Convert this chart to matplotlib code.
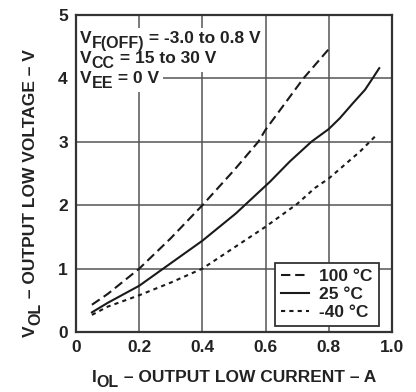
import numpy as np
import matplotlib
matplotlib.use('Agg')
import matplotlib.pyplot as plt
from matplotlib.transforms import IdentityTransform, Bbox
from matplotlib.patches import Rectangle

plt.rcParams['font.family'] = ['Liberation Sans', 'DejaVu Sans']
plt.rcParams['font.weight'] = 'bold'

# curves
x_100 = [0.05, 0.1, 0.2, 0.3, 0.4, 0.5, 0.577, 0.6, 0.72, 0.8]
v_100 = [0.43, 0.6, 1.0, 1.48, 2.0, 2.55, 3.0, 3.19, 4.0, 4.46]

x_25 = [0.05, 0.1, 0.2, 0.276, 0.4, 0.506, 0.614, 0.677, 0.745, 0.8, 0.835, 0.877, 0.915, 0.939, 0.96]
v_25 = [0.31, 0.46, 0.73, 1.0, 1.44, 1.87, 2.37, 2.69, 3.0, 3.2, 3.37, 3.61, 3.82, 4.0, 4.16]

x_m40 = [0.05, 0.1, 0.2, 0.3, 0.4, 0.506, 0.6, 0.7, 0.756, 0.8, 0.9, 0.946]
v_m40 = [0.27, 0.4, 0.58, 0.78, 1.0, 1.35, 1.66, 2.02, 2.27, 2.42, 2.85, 3.08]

labels = ['100 °C', '25 °C', '-40 °C']

xticks = [0, 0.2, 0.4, 0.6, 0.8, 1.0]
xticklabels = ['0', '0.2', '0.4', '0.6', '0.8', '1.0']
yticks = [0, 1, 2, 3, 4, 5]

FS = 12.5
SUB = 11.5
TXT = '#222222'

fig = plt.figure(figsize=(4.16, 3.92), dpi=100)
ax = fig.add_axes([0.183, 0.153, 0.759, 0.809])
renderer = fig.canvas.get_renderer()

col = '#1a1a1a'
ax.plot(x_100, v_100, color=col, lw=1.5, ls=(0, (4.5, 2.3)), label=labels[0], zorder=3)
ax.plot(x_25, v_25, color=col, lw=1.5, ls='-', label=labels[1], zorder=3)
ax.plot(x_m40, v_m40, color=col, lw=1.5, ls=(0, (2, 2)), label=labels[2], zorder=3)

ax.set_xlim(0, 1.0)
ax.set_ylim(0, 5)
ax.set_xticks(xticks)
ax.set_xticklabels(xticklabels)
ax.set_yticks(yticks)
ax.tick_params(length=0, labelsize=FS, pad=6, colors=TXT)
ax.grid(True, color='#555555', lw=1.1)
ax.set_axisbelow(True)
for s in ax.spines.values():
    s.set_linewidth(1.6)
    s.set_color('#333333')


def rich_text(x0, y0, pieces, rot=0, center=False):
    # pieces: (string, size, drop in px); x0,y0 in display pixels at the baseline
    objs = []
    total = 0
    for s, size, drop in pieces:
        t = fig.text(0, 0, s, transform=IdentityTransform(), fontsize=size, color=TXT,
                     fontweight='bold', ha='left', va='baseline',
                     rotation=rot, rotation_mode='anchor', zorder=5)
        ext = t.get_window_extent(renderer)
        w = ext.height if rot == 90 else ext.width
        objs.append((t, total, drop))
        total += w
    start = -total / 2 if center else 0
    for t, off, drop in objs:
        if rot == 90:
            t.set_position((x0 + drop, y0 + start + off))
        else:
            t.set_position((x0 + start + off, y0 - drop))
    return Bbox.union([t.get_window_extent(renderer) for t, _, _ in objs])


H = 392
# condition lines, top left, each with its own white patch over the grid
cond = [
    [('V', FS, 0), ('F(OFF)', SUB, 5), (' = -3.0 to 0.8 V', FS, 0)],
    [('V', FS, 0), ('CC', SUB, 5), (' = 15 to 30 V', FS, 0)],
    [('V', FS, 0), ('EE', SUB, 5), (' = 0 V', FS, 0)],
]
for i, pieces in enumerate(cond):
    bb = rich_text(80, H - 43 - 20 * i, pieces)
    ax.add_patch(Rectangle((bb.x0 - 4, bb.y0 - 1), bb.width + 8, bb.height + 4,
                           transform=IdentityTransform(), facecolor='white',
                           edgecolor='none', zorder=2, clip_on=True))

# axis labels
rich_text(234, H - 382, [('I', FS, 0), ('OL', SUB, 5), (' – OUTPUT LOW CURRENT – A', FS, 0)], center=True)
rich_text(35, H - 193, [('V', FS, 0), ('OL', SUB, 5), (' – OUTPUT LOW VOLTAGE – V', FS, 0)], rot=90, center=True)

leg = ax.legend(loc='lower right', prop=dict(size=FS, weight='bold'), frameon=True, fancybox=False,
                handlelength=1.6, handletextpad=0.6, borderpad=0.35, labelspacing=0.15,
                bbox_to_anchor=(0.959, 0.019), borderaxespad=0)
leg.get_frame().set_edgecolor('#333333')
leg.get_frame().set_linewidth(1.3)
leg.get_frame().set_alpha(1)
leg.set_zorder(6)
for t in leg.get_texts():
    t.set_color(TXT)

fig.savefig('out.png', dpi=100)
